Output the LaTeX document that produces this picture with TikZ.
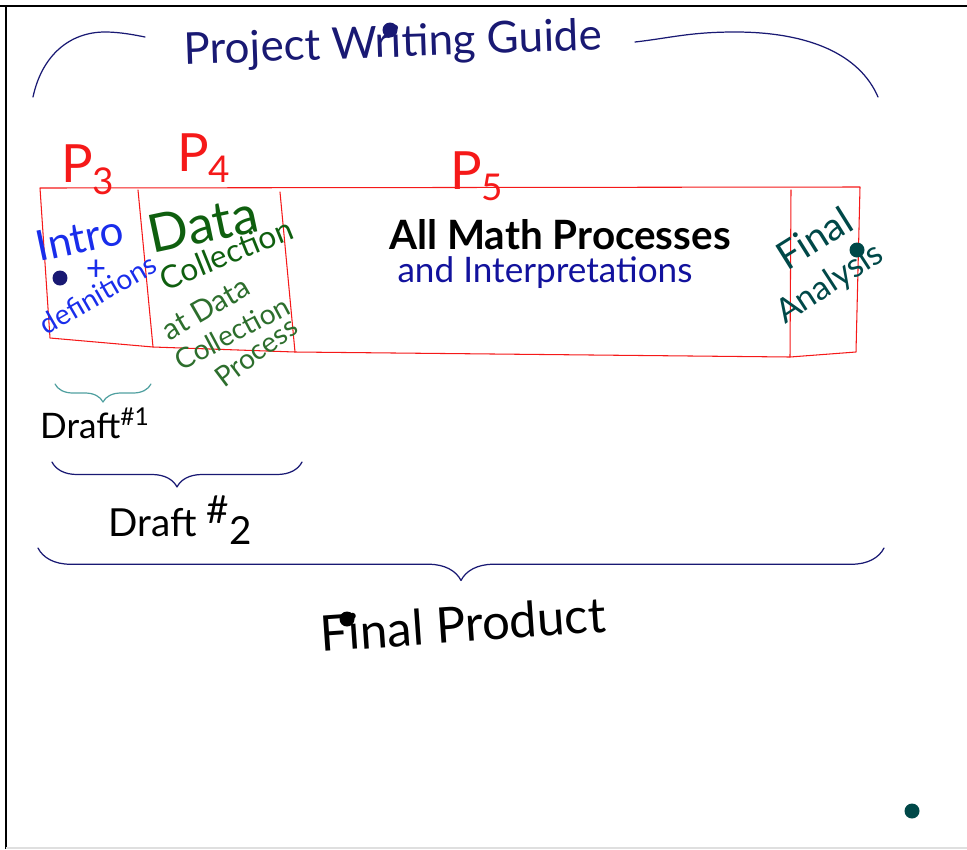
\documentclass[tikz,border=0pt]{standalone}
\usepackage{fontspec}
\setmainfont{Lato}
\usepackage{xcolor}
\usetikzlibrary{positioning,decorations.pathreplacing}
\definecolor{inknavy}{RGB}{25,25,115}
\definecolor{inkblue}{RGB}{25,45,235}
\definecolor{inkgreen}{RGB}{15,95,15}
\definecolor{inklgreen}{RGB}{45,110,45}
\definecolor{inkteal}{RGB}{0,72,72}
\definecolor{inkcyan}{RGB}{80,160,160}
\definecolor{inkred}{RGB}{245,25,25}

\begin{document}
\begin{tikzpicture}[x=0.02cm,y=-0.02cm,
  ink/.style={line width=0.7pt,line cap=round,line join=round},
  redline/.style={ink,draw=inkred,line width=0.6pt},
  hand/.style={inner sep=0pt,font=\fontsize{#1}{#1}\selectfont},
  brc/.style={ink,decorate,decoration={brace,mirror,amplitude=#1}},
  dot/.style={circle,fill,inner sep=0pt,minimum size=0.3cm}]
  \useasboundingbox (0,0) rectangle (967,849);
  % board frame
  \draw[line width=1.3pt] (0,6) -- (967,6);
  \draw[line width=1.3pt] (6,6) -- (6,849);
  \draw[gray!25,line width=1pt] (6,848) -- (967,848);

  % title and its arch
  \node (title) [hand=25,text=inknavy,rotate=2] at (393,45) {Project Writing Guide};
  \coordinate (archl) at (33,97);
  \coordinate (archr) at (878,97);
  \draw[ink,inknavy] (archl) .. controls (42,55) and (70,32) .. (105,32)
    .. controls (120,32) and (135,35) .. (145,37);
  \draw[ink,inknavy] (635,42) .. controls (670,38) and (690,32) .. (735,32)
    .. controls (810,32) and (860,55) .. (archr);

  % the paper strip
  \coordinate (stl) at (40,188);
  \coordinate (str) at (860,187);
  \coordinate (sbr) at (856,352);
  \coordinate (sbl) at (50,338);
  \draw[redline] (stl) -- (str) -- (sbr) -- (790,357) -- (295,352) -- (153,347) -- (sbl) -- cycle;
  \draw[redline] (138,190) -- (153,347);
  \draw[redline] (280,192) -- (295,352);
  \draw[redline] (791,190) -- (790,357);

  % page labels
  \node (p3) [hand=30,text=inkred] at (88,170) {P\textsubscript{3}};
  \node (p4) [hand=30,text=inkred] at (204,158) {P\textsubscript{4}};
  \node (p5) [hand=30,text=inkred] at (477,176) {P\textsubscript{5}};

  % intro
  \node (intro) [hand=24,text=inkblue,rotate=12] at (80,238) {Intro};
  \node (plus) [hand=20,text=inkblue] at (96,270) {+};
  \node (defs) [hand=16,text=inkblue,rotate=30] at (98,294) {definitions};

  % data collection
  \node (data) [hand=30,text=inkgreen,rotate=12] at (203,224) {Data};
  \node (coll) [hand=18,text=inkgreen,rotate=22] at (226,254) {Collection};
  \node (atd) [hand=17,text=inklgreen,rotate=30] at (206,308) {at Data};
  \node (coll2) [hand=16,text=inklgreen,rotate=28] at (232,333) {Collection};
  \node (proc) [hand=16,text=inklgreen,rotate=37] at (256,352) {Process};

  % math part
  \node (math) [hand=23,font=\fontsize{23}{23}\selectfont\bfseries] at (560,235) {All Math Processes};
  \node (interp) [hand=20,text=inknavy!70!blue] at (545,273) {and Interpretations};

  % final analysis
  \node (fin) [hand=22,text=inkteal,rotate=32] at (814,238) {Final};
  \node (anal) [hand=19,text=inkteal,rotate=33] at (830,284) {Analysis};

  % drafts
  \coordinate (d1l) at (55,384);
  \coordinate (d1r) at (151,384);
  \draw[brc=0.36cm,inkcyan] (d1l) -- (d1r);
  \node (draft1) [hand=20] at (95,423) {Draft\textsuperscript{\#1}};
  \coordinate (d2l) at (52,462);
  \coordinate (d2r) at (302,462);
  \draw[brc=0.5cm,inknavy] (d2l) -- (d2r);
  \node (draft2) [hand=22] at (180,520) {Draft \raisebox{0.7ex}{\#}\raisebox{-0.4ex}{2}};
  \coordinate (fpl) at (38,548);
  \coordinate (fpr) at (884,548);
  \draw[brc=0.65cm,inknavy] (fpl) -- (fpr);
  \node (final) [hand=28,rotate=4] at (463,624) {Final Product};

  % marker dots
  \node (dt1) [dot,fill=inknavy] at (390,30) {};
  \node (dt2) [dot,fill=inknavy] at (60,278) {};
  \node (dt3) [dot,fill=inkteal] at (857,250) {};
  \node (dt4) [dot,fill=black] at (347,619) {};
  \node (dt5) [dot,fill=inkteal] at (912,811) {};
\end{tikzpicture}
\end{document}
